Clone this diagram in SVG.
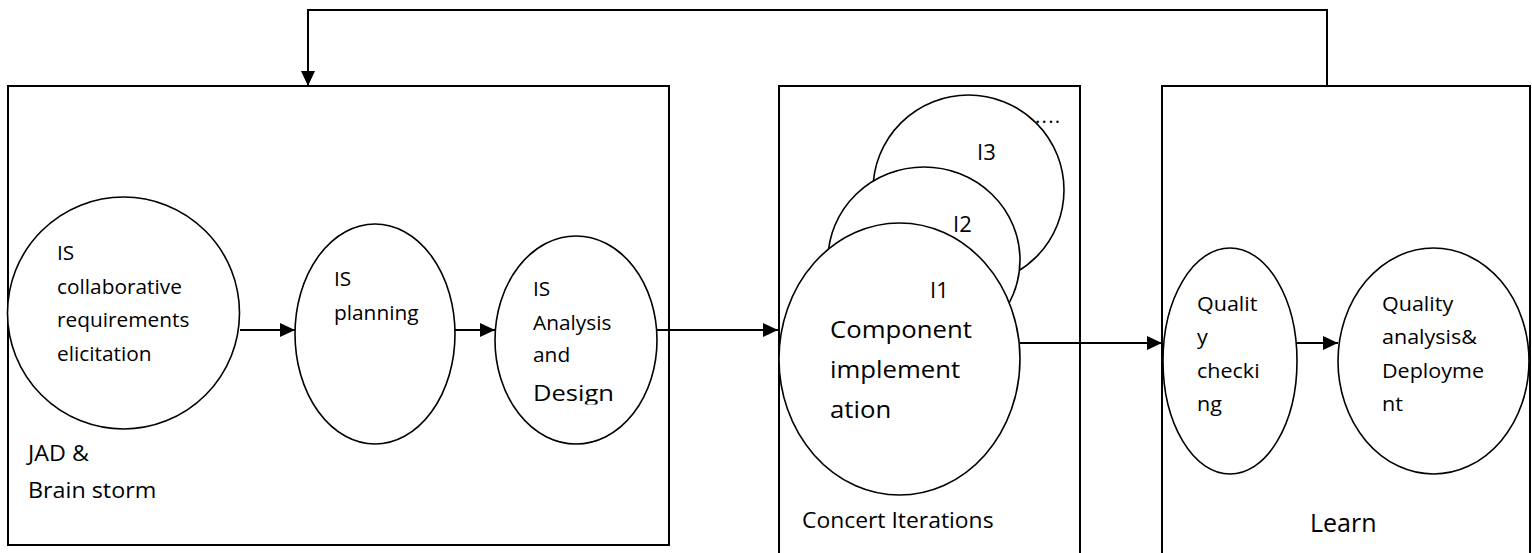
<svg xmlns="http://www.w3.org/2000/svg" width="1532" height="553" viewBox="0 0 1532 553">
<style>
  .box { fill: #ffffff; stroke: #000; stroke-width: 2; }
  .ell { fill: #ffffff; stroke: #000; stroke-width: 1.6; }
  .con { fill: none; stroke: #000; stroke-width: 2; }
  text { font-family: "Open Sans", "Liberation Sans", sans-serif; fill: #000; }
  .s { font-size: 19.5px; }
  .m { font-size: 20.5px; }
  .l { font-size: 22px; }
  .xl { font-size: 24.5px; }
</style>
<defs>
  <marker id="arr" markerUnits="userSpaceOnUse" markerWidth="16" markerHeight="15" refX="15" refY="7" orient="auto">
    <path d="M0,0 L15,7 L0,14 z" fill="#000"/>
  </marker>
  <clipPath id="clipDesign" clipPathUnits="userSpaceOnUse"><rect x="520" y="370" width="120" height="34.5"/></clipPath>
</defs>
<rect width="1532" height="553" fill="#ffffff"/>

<g id="box-jad">
  <rect class="box" x="8" y="86" width="661" height="459"/>
  <text class="l" transform="translate(28 0) scale(1.06 1)"><tspan x="0" y="461">JAD &amp;</tspan><tspan x="0" y="498">Brain storm</tspan></text>
</g>
<g id="box-concert">
  <rect class="box" x="779" y="86" width="301" height="480"/>
  <text transform="translate(802 0) scale(1.09 1)" style="font-size:21px"><tspan x="0" y="528">Concert Iterations</tspan></text>
</g>
<g id="box-learn">
  <rect class="box" x="1162" y="86" width="368" height="480"/>
  <text style="font-size:25px" transform="translate(1310 0)"><tspan x="0" y="532">Learn</tspan></text>
</g>

<g id="node-elicitation">
  <ellipse class="ell" cx="123.5" cy="313" rx="116" ry="116"/>
  <text class="s" transform="translate(57 0) scale(1.07 1)"><tspan x="0" y="260">IS</tspan><tspan x="0" y="294">collaborative</tspan><tspan x="0" y="327">requirements</tspan><tspan x="0" y="361">elicitation</tspan></text>
</g>
<g id="node-planning">
  <ellipse class="ell" cx="375" cy="334" rx="80" ry="110"/>
  <text class="s" transform="translate(334 0) scale(1.07 1)"><tspan x="0" y="286">IS</tspan><tspan x="0" y="320">planning</tspan></text>
</g>
<g id="node-analysis">
  <ellipse class="ell" cx="576" cy="340" rx="81" ry="104"/>
  <text class="s" transform="translate(533 0) scale(1.07 1)"><tspan x="0" y="296">IS</tspan><tspan x="0" y="330">Analysis</tspan><tspan x="0" y="362">and</tspan></text>
  <g clip-path="url(#clipDesign)">
    <text class="l" transform="translate(533 0) scale(1.16 1)"><tspan x="0" y="401">Design</tspan></text>
  </g>
</g>

<g id="node-i3">
  <ellipse class="ell" cx="968.5" cy="190" rx="95.5" ry="95"/>
  <text class="l" x="977" y="160">I3</text>
</g>
<g id="node-i2">
  <ellipse class="ell" cx="924" cy="260" rx="96" ry="93"/>
  <text class="l" x="953" y="232">I2</text>
</g>
<g id="node-i1">
  <ellipse class="ell" cx="899.5" cy="359" rx="120.5" ry="136"/>
  <text class="l" x="930" y="298">I1</text>
  <text class="xl" transform="translate(830 0) scale(1.05 1)"><tspan x="0" y="338">Component</tspan><tspan x="0" y="378">implement</tspan><tspan x="0" y="418">ation</tspan></text>
</g>
<g id="label-more">
  <text class="m" x="1035" y="123" letter-spacing="1.2">....</text>
</g>

<g id="node-quality-checking">
  <ellipse class="ell" cx="1230" cy="361" rx="67" ry="113"/>
  <text class="m" transform="translate(1197 0) scale(1.05 1)"><tspan x="0" y="311">Qualit</tspan><tspan x="0" y="344">y</tspan><tspan x="0" y="378">checki</tspan><tspan x="0" y="411">ng</tspan></text>
</g>
<g id="node-quality-deployment">
  <ellipse class="ell" cx="1433.5" cy="361" rx="95.5" ry="113"/>
  <text class="m" transform="translate(1382 0) scale(1.05 1)"><tspan x="0" y="311">Quality</tspan><tspan x="0" y="344">analysis&amp;</tspan><tspan x="0" y="378">Deployme</tspan><tspan x="0" y="411">nt</tspan></text>
</g>

<g id="connectors">
  <polyline class="con" points="1327,86 1327,10 308,10 308,86" marker-end="url(#arr)"/>
  <line class="con" x1="240" y1="330" x2="295" y2="330" marker-end="url(#arr)"/>
  <line class="con" x1="455" y1="330" x2="495" y2="330" marker-end="url(#arr)"/>
  <line class="con" x1="657" y1="330" x2="778" y2="330" marker-end="url(#arr)"/>
  <line class="con" x1="1020" y1="343" x2="1162" y2="343" marker-end="url(#arr)"/>
  <line class="con" x1="1297" y1="343" x2="1338" y2="343" marker-end="url(#arr)"/>
</g>
</svg>
